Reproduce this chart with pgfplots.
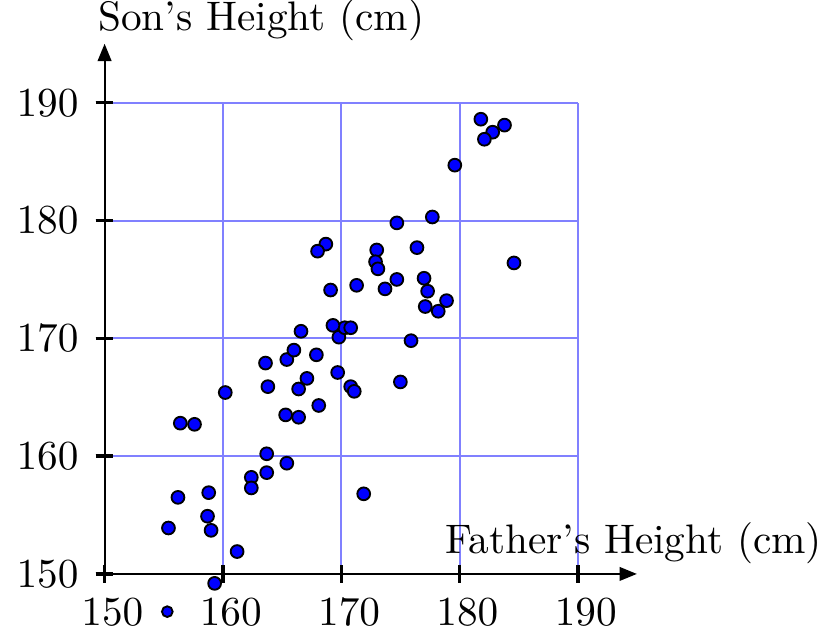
\documentclass[border=0pt]{standalone}
\usepackage{pgfplots}
\pgfplotsset{compat=1.18}
\usetikzlibrary{arrows.meta}
\pgfplotstableread{
x y
166.6 170.6
169.8 170.1
163.6 167.9
165.4 168.2
166.0 169.0
167.9 168.6
169.7 167.1
167.1 166.6
166.4 165.7
163.8 165.9
160.2 165.4
168.1 164.3
165.3 163.5
166.4 163.3
156.4 162.8
157.6 162.7
163.7 160.2
165.4 159.4
162.4 158.2
163.7 158.6
162.4 157.3
156.2 156.5
158.8 156.9
158.7 154.9
159.0 153.7
155.4 153.9
161.2 151.9
159.3 149.2
175.9 169.8
170.8 165.9
171.1 165.5
175.0 166.3
171.9 156.8
181.8 188.6
182.8 187.5
182.1 186.9
183.8 188.1
179.6 184.7
177.7 180.3
174.7 179.8
173.0 177.5
172.9 176.5
173.1 175.9
176.4 177.7
184.6 176.4
171.3 174.5
174.7 175.0
173.7 174.2
177.0 175.1
177.3 174.0
178.9 173.2
177.1 172.7
178.2 172.3
170.3 170.9
170.8 170.9
168.7 178.0
168.0 177.4
169.1 174.1
169.3 171.1
}\heights
\begin{document}
\begin{tikzpicture}
% background axis: grid only
\begin{axis}[
  scale only axis,
  width=114.7pt, height=114.2pt,
  xmin=150, xmax=190, ymin=150, ymax=190,
  xtick={150,160,...,190}, ytick={150,160,...,190},
  xticklabels={}, yticklabels={},
  grid=major,
  major grid style={blue!50, line width=0.5pt},
  axis line style={draw=none},
  tick style={draw=none},
]
\end{axis}
% main axis
\begin{axis}[
  scale only axis,
  width=114.7pt, height=114.2pt,
  axis lines=left,
  xmin=150, xmax=190, ymin=150, ymax=190,
  xtick={150,160,...,190}, ytick={150,160,...,190},
  axis line style={black, line width=0.5pt, shorten >=-14.3pt, -{Triangle[length=4.2pt, width=3.3pt]}},
  tick style={black, line width=0.8pt},
  major tick length=4.3pt,
  tick align=center,
  clip=false,
  xticklabel style={xshift=1.9pt, inner sep=1.2pt, yshift=-2.5pt},
  yticklabel style={inner sep=4pt},
  xlabel={Father's Height (cm)},
  ylabel={Son's Height (cm)},
  xlabel style={at={(axis description cs:1,0)}, anchor=base, inner sep=0pt, xshift=13.5pt, yshift=5.0pt},
  ylabel style={rotate=-90, at={(axis description cs:0,1)}, anchor=base west, inner sep=0pt, xshift=-1.7pt, yshift=17.4pt},
  every axis plot post/.append style={},
]
% tick marks on the x axis
\addplot[black, line width=0.8pt, forget plot] coordinates {(150,149.25) (150,150.75)};
\addplot[black, line width=0.8pt, forget plot] coordinates {(160,149.25) (160,150.75)};
\addplot[black, line width=0.8pt, forget plot] coordinates {(170,149.25) (170,150.75)};
\addplot[black, line width=0.8pt, forget plot] coordinates {(180,149.25) (180,150.75)};
\addplot[black, line width=0.8pt, forget plot] coordinates {(190,149.25) (190,150.75)};
% tick marks on the y axis
\addplot[black, line width=0.8pt, forget plot] coordinates {(149.25,150) (150.75,150)};
\addplot[black, line width=0.8pt, forget plot] coordinates {(149.25,160) (150.75,160)};
\addplot[black, line width=0.8pt, forget plot] coordinates {(149.25,170) (150.75,170)};
\addplot[black, line width=0.8pt, forget plot] coordinates {(149.25,180) (150.75,180)};
\addplot[black, line width=0.8pt, forget plot] coordinates {(149.25,190) (150.75,190)};
% data
\addplot[only marks, mark=*, mark size=1.55pt, mark options={fill=blue, draw=black, line width=0.45pt}] table[x=x,y=y]{\heights};
\addplot[only marks, mark=*, mark size=1.3pt, mark options={fill=blue, draw=black, line width=0.45pt}] coordinates {(155.3,146.8)};
\end{axis}
\end{tikzpicture}
\end{document}
